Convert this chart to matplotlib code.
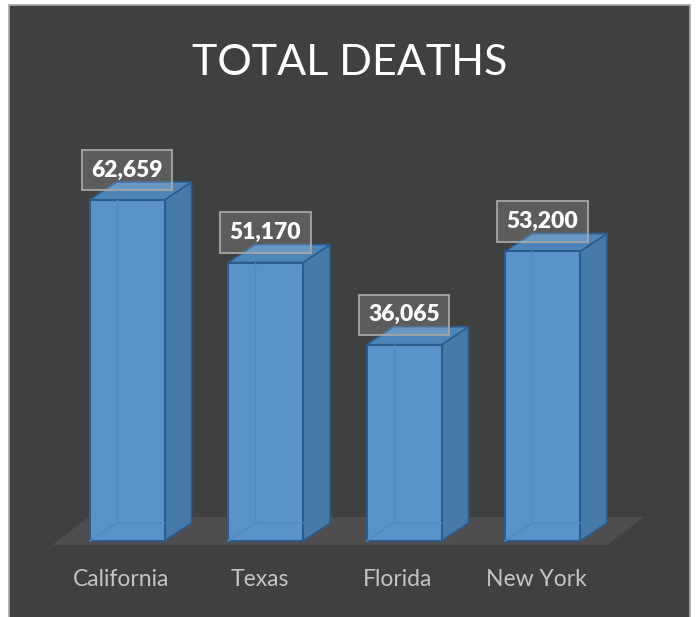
import matplotlib.pyplot as plt
from matplotlib.patches import Polygon, Rectangle

states = ["California", "Texas", "Florida", "New York"]
deaths = [62659, 51170, 36065, 53200]

W, H = 697, 617
fig = plt.figure(figsize=(W / 100, H / 100), dpi=100)
fig.patch.set_facecolor("white")

# dark chart area with thin grey frame (open at the bottom)
fig.patches.append(Rectangle((9 / W, -0.02), 681 / W, 612 / H + 0.02, transform=fig.transFigure,
                             facecolor="#404040", edgecolor="#a6a6a6", linewidth=1.2, zorder=-1))

ax = fig.add_axes([0, 0, 1, 1])
ax.set_facecolor("none")
ax.axis("off")

px_x = 138.5          # pixels per category step
px_y = 62659 / 341.0  # units per pixel
ax.set_xlim(-127 / px_x, (W - 127) / px_x)
ax.set_ylim(-76 * px_y, 541 * px_y)

bw = 75 / px_x
dx, dy = 27 / px_x, 18 * px_y

front_c = "#5a93c9"
side_c = "#467aa8"
top_c = "#4f86ba"
edge_c = "#2c5c8c"

# floor
fx0, fx1 = -75 / px_x, 480 / px_x
fy = -4 * px_y
fdx, fdy = 37 / px_x, 28 * px_y
ax.add_patch(Polygon([(fx0, fy), (fx1, fy), (fx1 + fdx, fy + fdy), (fx0 + fdx, fy + fdy)],
                     closed=True, facecolor="#4f4d4d", edgecolor="none", zorder=1))

for i, v in enumerate(deaths):
    x0, x1 = i - bw / 2, i + bw / 2
    side = [(x1, 0), (x1 + dx, dy), (x1 + dx, v + dy), (x1, v)]
    top = [(x0, v), (x1, v), (x1 + dx, v + dy), (x0 + dx, v + dy)]
    ax.add_patch(Polygon(side, closed=True, facecolor=side_c, edgecolor=edge_c, linewidth=1.2, zorder=2))
    ax.add_patch(Polygon(top, closed=True, facecolor=top_c, edgecolor=edge_c, linewidth=1.2, zorder=2))
    ax.bar(i, v, width=bw, color=front_c, edgecolor=edge_c, linewidth=1.5, zorder=3)
    # faint hidden back edges seen through the bar
    ax.plot([x0 + dx, x0 + dx], [dy, v], color="#528bc2", lw=1, zorder=4)
    ax.plot([x0, x0 + dx, x1], [0, dy, dy], color="#528bc2", lw=1, zorder=4)

    ax.annotate(f"{v:,}", xy=(i, v), xytext=(0, 30), textcoords="offset pixels",
                ha="center", va="center", fontsize=16.5, fontweight="heavy", family="Lato",
                color="white", zorder=6,
                bbox=dict(boxstyle="square,pad=0.42", facecolor=(1, 1, 1, 0.15),
                          edgecolor="#a6a6a6", linewidth=1.3))
    ax.annotate(states[i], xy=(i, 0), xytext=(-6, -39), textcoords="offset pixels",
                ha="center", va="center", fontsize=16.5, family="Lato", color="#c4c4c4")

fig.text(350 / W, 1 - 63 / H, "TOTAL DEATHS", ha="center", va="center",
         fontsize=31, family="Lato", color="white")

fig.savefig("out.png", dpi=100)
